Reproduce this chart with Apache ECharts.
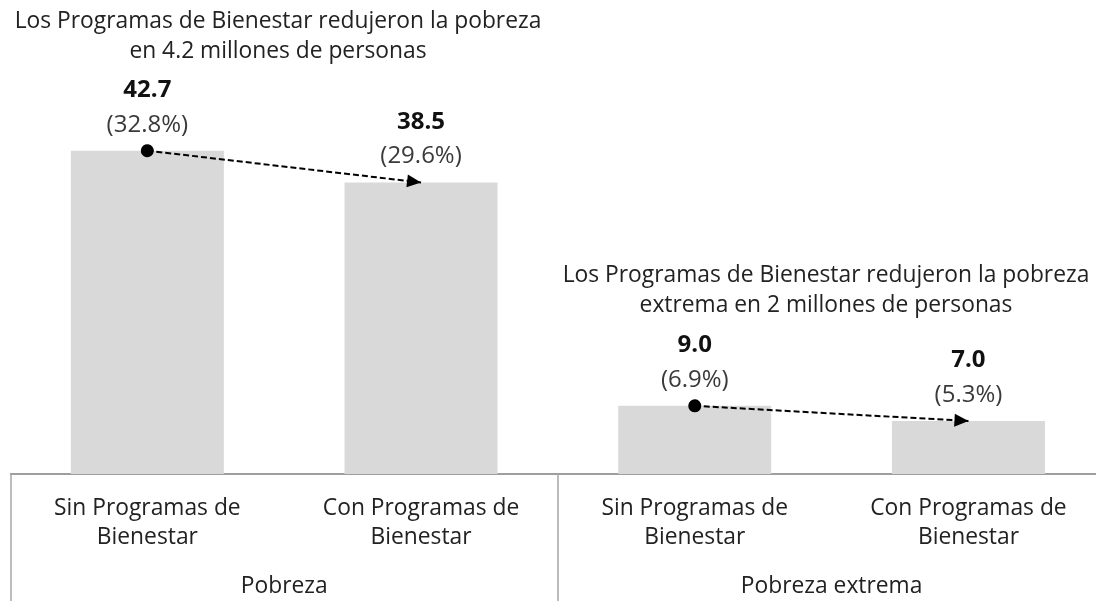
<!DOCTYPE html>
<html>
<head>
<meta charset="utf-8">
<script src="https://cdn.jsdelivr.net/npm/echarts@6/dist/echarts.min.js"></script>
<style>
html,body{margin:0;padding:0;background:#fff;}
#chart{width:1096px;height:601px;}
</style>
</head>
<body>
<div id="chart"></div>
<script>
// ---- data ----
const categories = ['Sin Programas de\nBienestar', 'Con Programas de\nBienestar', 'Sin Programas de\nBienestar', 'Con Programas de\nBienestar'];
const groups = ['Pobreza', 'Pobreza extrema'];
const millions = [42.7, 38.5, 9.0, 7.0];
const percents = ['32.8%', '29.6%', '6.9%', '5.3%'];
const titleLines1 = ['Los Programas de Bienestar redujeron la pobreza', 'en 4.2 millones de personas'];
const titleLines2 = ['Los Programas de Bienestar redujeron la pobreza', 'extrema en 2 millones de personas'];

const FONT = '"Open Sans", "Noto Sans", sans-serif';
const chart = echarts.init(document.getElementById('chart'), null, {renderer: 'canvas'});

const option = {
  animation: false,
  backgroundColor: '#ffffff',
  grid: {left: 10.5, width: 1094.8, top: 95.4, bottom: 127, outerBoundsMode: 'none', containLabel: false},
  graphic: [
    {type: 'text', x: 278, y: 7, style: {text: titleLines1.join('\n'), font: '22.8px ' + FONT, fill: '#222', textAlign: 'center', textVerticalAlign: 'top', lineHeight: 30}, silent: true},
    {type: 'text', x: 826, y: 261, style: {text: titleLines2.join('\n'), font: '22.8px ' + FONT, fill: '#222', textAlign: 'center', textVerticalAlign: 'top', lineHeight: 30}, silent: true}
  ],
  xAxis: [
    {
      type: 'category', data: categories, position: 'bottom',
      axisLine: {show: true, lineStyle: {color: '#7f7f7f', width: 1.5}},
      axisTick: {show: false},
      axisLabel: {interval: 0, margin: 20, color: '#222', fontFamily: FONT, fontSize: 22.8, lineHeight: 29}
    },
    {
      type: 'category', data: groups, position: 'bottom',
      axisLine: {show: false},
      axisTick: {show: true, length: 130, lineStyle: {color: '#a6a6a6', width: 1.5}},
      axisLabel: {interval: 0, margin: 98, color: '#222', fontFamily: FONT, fontSize: 22.8, lineHeight: 29}
    }
  ],
  yAxis: {type: 'value', min: 0, max: 50, show: false},
  series: [
    {
      type: 'bar', xAxisIndex: 0, data: millions, barWidth: 153,
      itemStyle: {color: '#d9d9d9'},
      label: {
        show: true, position: 'top', distance: 9,
        formatter: p => '{v|' + millions[p.dataIndex].toFixed(1) + '}\n{p|(' + percents[p.dataIndex] + ')}',
        rich: {
          v: {fontFamily: FONT, fontSize: 24, fontWeight: 'bold', color: '#111', lineHeight: 35, align: 'center'},
          p: {fontFamily: FONT, fontSize: 24, color: '#3a3a3a', lineHeight: 34, align: 'center'}
        }
      },
      markLine: {
        silent: true,
        symbol: ['circle', 'triangle'],
        symbolSize: [13, 14],
        symbolOffset: [[0, 0], [0, 7]],
        label: {show: false},
        lineStyle: {color: '#000', width: 2, type: [6, 3]},
        data: [
          [{coord: [0, millions[0]]}, {coord: [1, millions[1]]}],
          [{coord: [2, millions[2]]}, {coord: [3, millions[3]]}]
        ]
      }
    }
  ]
};
chart.setOption(option);
</script>
</body>
</html>
